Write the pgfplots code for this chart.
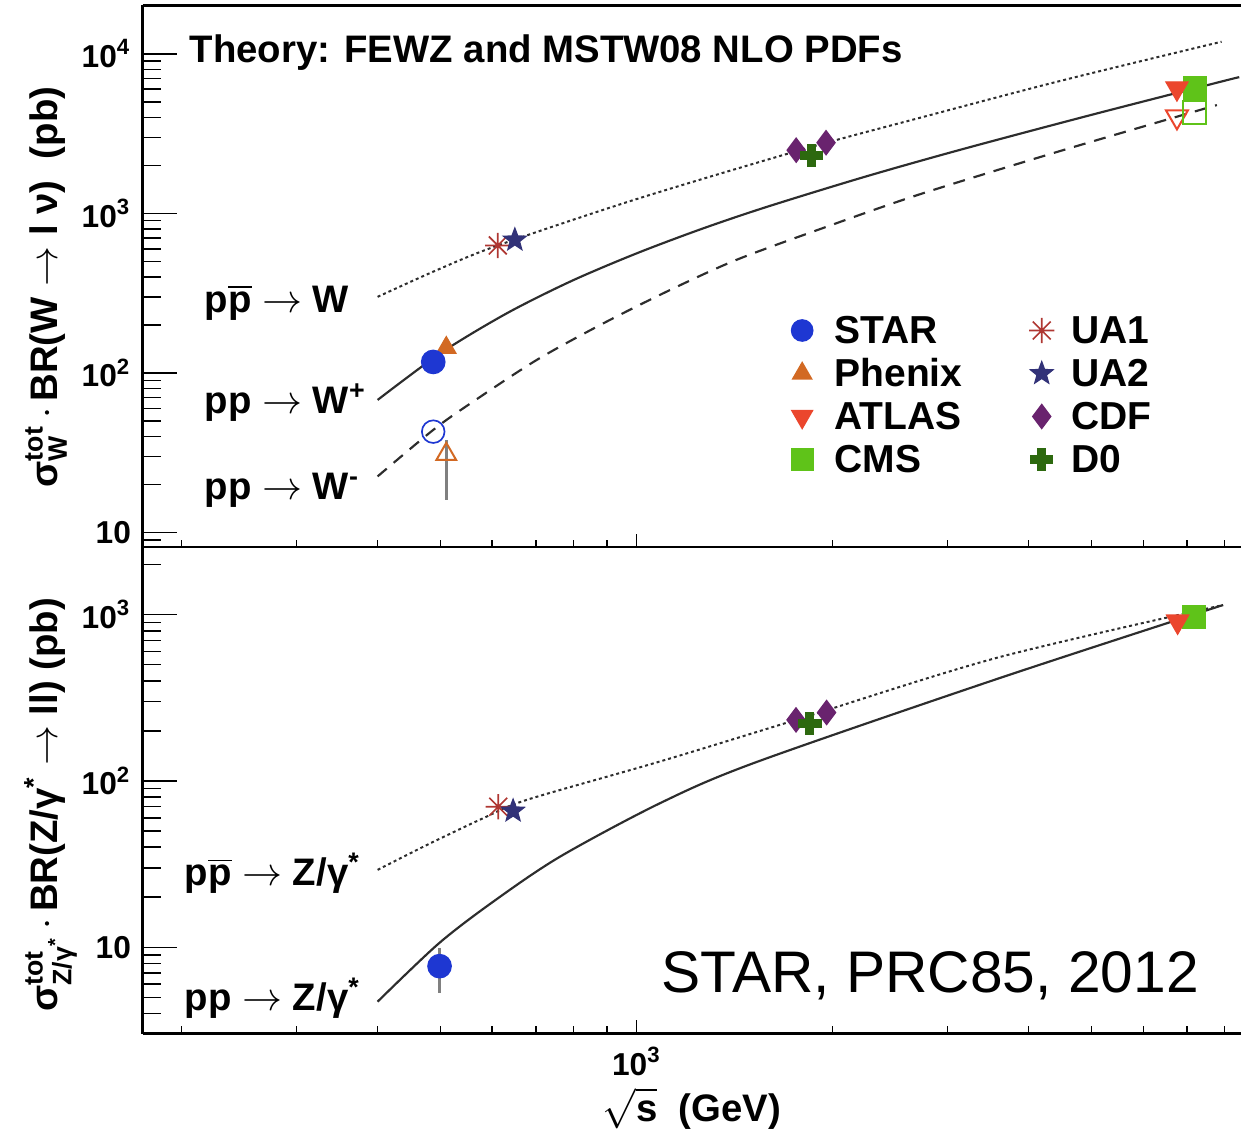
\documentclass[border=0pt]{standalone}
\usepackage{fontspec}
\setmainfont{Liberation Sans}
\usepackage{pgfplots}
\pgfplotsset{compat=1.18}

\definecolor{cstar}{RGB}{30,55,210}
\definecolor{cphenix}{RGB}{210,105,35}
\definecolor{catlas}{RGB}{235,70,45}
\definecolor{ccms}{RGB}{95,195,25}
\definecolor{cua1}{RGB}{175,55,50}
\definecolor{cua2}{RGB}{50,50,120}
\definecolor{ccdf}{RGB}{105,35,110}
\definecolor{cdzero}{RGB}{45,105,15}
\definecolor{cth}{RGB}{45,45,45}

% ROOT-like markers
\pgfdeclareplotmark{ast8}{%
  \pgfpathmoveto{\pgfqpoint{0pt}{\pgfplotmarksize}}\pgfpathlineto{\pgfqpoint{0pt}{-\pgfplotmarksize}}%
  \pgfpathmoveto{\pgfqpoint{\pgfplotmarksize}{0pt}}\pgfpathlineto{\pgfqpoint{-\pgfplotmarksize}{0pt}}%
  \pgfpathmoveto{\pgfqpoint{.7071\pgfplotmarksize}{.7071\pgfplotmarksize}}\pgfpathlineto{\pgfqpoint{-.7071\pgfplotmarksize}{-.7071\pgfplotmarksize}}%
  \pgfpathmoveto{\pgfqpoint{-.7071\pgfplotmarksize}{.7071\pgfplotmarksize}}\pgfpathlineto{\pgfqpoint{.7071\pgfplotmarksize}{-.7071\pgfplotmarksize}}%
  \pgfusepathqstroke}
\pgfdeclareplotmark{fstar}{%
  \pgfpathmoveto{\pgfqpoint{0pt}{\pgfplotmarksize}}%
  \pgfpathlineto{\pgfqpoint{-.2469\pgfplotmarksize}{.3398\pgfplotmarksize}}%
  \pgfpathlineto{\pgfqpoint{-.9511\pgfplotmarksize}{.309\pgfplotmarksize}}%
  \pgfpathlineto{\pgfqpoint{-.3995\pgfplotmarksize}{-.1298\pgfplotmarksize}}%
  \pgfpathlineto{\pgfqpoint{-.5878\pgfplotmarksize}{-.809\pgfplotmarksize}}%
  \pgfpathlineto{\pgfqpoint{0pt}{-.42\pgfplotmarksize}}%
  \pgfpathlineto{\pgfqpoint{.5878\pgfplotmarksize}{-.809\pgfplotmarksize}}%
  \pgfpathlineto{\pgfqpoint{.3995\pgfplotmarksize}{-.1298\pgfplotmarksize}}%
  \pgfpathlineto{\pgfqpoint{.9511\pgfplotmarksize}{.309\pgfplotmarksize}}%
  \pgfpathlineto{\pgfqpoint{.2469\pgfplotmarksize}{.3398\pgfplotmarksize}}%
  \pgfpathclose\pgfusepathqfillstroke}
\pgfdeclareplotmark{fcross}{%
  \pgfpathmoveto{\pgfqpoint{.35\pgfplotmarksize}{\pgfplotmarksize}}%
  \pgfpathlineto{\pgfqpoint{.35\pgfplotmarksize}{.35\pgfplotmarksize}}%
  \pgfpathlineto{\pgfqpoint{\pgfplotmarksize}{.35\pgfplotmarksize}}%
  \pgfpathlineto{\pgfqpoint{\pgfplotmarksize}{-.35\pgfplotmarksize}}%
  \pgfpathlineto{\pgfqpoint{.35\pgfplotmarksize}{-.35\pgfplotmarksize}}%
  \pgfpathlineto{\pgfqpoint{.35\pgfplotmarksize}{-\pgfplotmarksize}}%
  \pgfpathlineto{\pgfqpoint{-.35\pgfplotmarksize}{-\pgfplotmarksize}}%
  \pgfpathlineto{\pgfqpoint{-.35\pgfplotmarksize}{-.35\pgfplotmarksize}}%
  \pgfpathlineto{\pgfqpoint{-\pgfplotmarksize}{-.35\pgfplotmarksize}}%
  \pgfpathlineto{\pgfqpoint{-\pgfplotmarksize}{.35\pgfplotmarksize}}%
  \pgfpathlineto{\pgfqpoint{-.35\pgfplotmarksize}{.35\pgfplotmarksize}}%
  \pgfpathlineto{\pgfqpoint{-.35\pgfplotmarksize}{\pgfplotmarksize}}%
  \pgfpathclose\pgfusepathqfillstroke}

\newcommand\lbl{\fontsize{11.5}{13}\selectfont\bfseries}
\newcommand\tck{\fontsize{9.5}{11}\selectfont\bfseries}
\newcommand\scr{\fontsize{8}{9}\selectfont\bfseries}
\newcommand\pbar{$\overline{\mbox{p}}$}
\newcommand\lsp{\hspace{6pt}}

\begin{document}
\begin{tikzpicture}
% ---------- W panel ----------
\begin{axis}[name=top,
  xmode=log, ymode=log, scale only axis, width=329.5pt, height=162.48pt,
  xmin=174.3, xmax=8480, ymin=8.125, ymax=20110, clip=false,
  axis x line*=bottom, axis y line*=left,
  axis line style={line width=0.8pt},
  tick style={black, line width=0.45pt}, tick align=inside,
  major tick length=10.5pt, minor tick length=5.5pt,
  xtick=\empty,
  ytick={10,100,1000,10000},
  yticklabels={10,10\textsuperscript{2},10\textsuperscript{3},10\textsuperscript{4}},
  minor ytick={9,20,30,40,50,60,70,80,90,200,300,400,500,600,700,800,900,2000,3000,4000,5000,6000,7000,8000,9000},
  yticklabel style={font=\tck},
  ylabel={$\mbox{σ}^{\mbox{\scr tot}}_{\mbox{\scr W}}$\,$\cdot$\,BR(W $\rightarrow$ l ν)\ \ (pb)},
  ylabel style={at={(axis description cs:-0.078,0.48)}, anchor=base, font=\lbl},
  legend columns=2, legend cell align=left,
  legend style={draw=none, fill=none, at={(rel axis cs:0.581,0.441)}, anchor=north west,
    font=\fontsize{11.7}{12}\selectfont\bfseries, row sep=3.9pt,
    nodes={inner sep=0.5pt, text height=8pt, text depth=0pt},
    /tikz/every even column/.append style={column sep=19.5pt}},
]
\addlegendimage{only marks, mark=*, cstar, mark size=3.2pt}\addlegendentry{\lsp STAR}
\addlegendimage{only marks, mark=ast8, cua1, mark size=3.8pt, mark options={line width=0.5pt}}\addlegendentry{\hspace{4.5pt}UA1}
\addlegendimage{only marks, mark=triangle*, cphenix, mark size=3.3pt}\addlegendentry{\lsp Phenix}
\addlegendimage{only marks, mark=fstar, cua2, mark size=3.5pt}\addlegendentry{\hspace{4.5pt}UA2}
\addlegendimage{only marks, mark=triangle*, catlas, mark size=3.6pt, mark options={rotate=180}}\addlegendentry{\lsp ATLAS}
\addlegendimage{only marks, mark=diamond*, ccdf, mark size=3.6pt}\addlegendentry{\hspace{4.5pt}CDF}
\addlegendimage{only marks, mark=square*, ccms, mark size=3.2pt}\addlegendentry{\lsp CMS}
\addlegendimage{only marks, mark=fcross, cdzero, mark size=3.3pt}\addlegendentry{\hspace{4.5pt}D0}

% theory curves
\addplot[forget plot, cth, smooth, line width=0.6pt, dash pattern=on 0.9pt off 0.9pt] coordinates
  {(400,300)(493,441)(612,630)(1000,1230)(1800,2520)(2723,3972)(4472,6761)(7917,11910)};
\addplot[forget plot, cth, smooth, line width=0.65pt] coordinates
  {(400,67.8)(501,134)(631,236)(794,377)(1000,562)(1259,800)(1585,1099)(2239,1694)(3162,2523)(5012,4159)(7943,6730)(8414,7125)};
\addplot[forget plot, cth, smooth, line width=0.65pt, dash pattern=on 3.6pt off 2.7pt] coordinates
  {(400,22.5)(487,44)(555,64.3)(702,120.6)(889,204.8)(1125,331)(1424,512)(1950,820)(2723,1318)(4472,2460)(7787,4775)};

% data
\addplot[forget plot, only marks, mark=o, cstar, mark size=3.4pt, mark options={line width=0.5pt}] coordinates {(487,42.9)};
\addplot[forget plot, only marks, mark=triangle, cphenix, mark size=3.4pt, mark options={line width=0.6pt, fill=white},
  error bars/.cd, y dir=both, y explicit, error mark=none, error bar style={gray, line width=0.9pt}]
  coordinates {(510,31) += (0,7) -= (0,15)};
\addplot[forget plot, only marks, mark=triangle*, cphenix, mark size=3.3pt] coordinates {(510,144)};
\addplot[forget plot, only marks, mark=*, cstar, mark size=3.5pt] coordinates {(487,117.3)};
\addplot[forget plot, only marks, mark=ast8, cua1, mark size=3.8pt, mark options={line width=0.5pt}] coordinates {(612,630)};
\addplot[forget plot, only marks, mark=fstar, cua2, mark size=3.5pt] coordinates {(650,682)};
\addplot[forget plot, only marks, mark=diamond*, ccdf, mark size=3.6pt] coordinates {(1758,2490)(1954,2775)};
\addplot[forget plot, only marks, mark=fcross, cdzero, mark size=3.3pt] coordinates {(1854,2310)};
\addplot[forget plot, only marks, mark=triangle, catlas, mark size=3.8pt, mark options={rotate=180, line width=0.6pt}] coordinates {(6760,4035)};
\addplot[forget plot, only marks, mark=square, ccms, mark size=3.4pt, mark options={line width=0.6pt}] coordinates {(7200,4275)};
\addplot[forget plot, only marks, mark=square*, ccms, mark size=3.4pt] coordinates {(7200,6080)};
\addplot[forget plot, only marks, mark=triangle*, catlas, mark size=3.8pt, mark options={rotate=180}] coordinates {(6760,6080)};

\draw[line width=0.8pt] (rel axis cs:0,1) -- (rel axis cs:1,1);
\node[anchor=base west, font=\lbl] at (rel axis cs:0.0321,0.8946) {Theory: FEWZ and MSTW08 NLO PDFs};
\node[anchor=base west, font=\lbl] at (rel axis cs:0.0458,0.433) {p\pbar\ $\rightarrow$ W};
\node[anchor=base west, font=\lbl] at (rel axis cs:0.0458,0.2456) {pp $\rightarrow$ W\textsuperscript{+}};
\node[anchor=base west, font=\lbl] at (rel axis cs:0.0458,0.0868) {pp $\rightarrow$ W\textsuperscript{-}};
\end{axis}
% short x ticks of the W panel
\begin{axis}[at={(top.south west)}, anchor=south west,
  xmode=log, scale only axis, width=329.5pt, height=162.48pt,
  xmin=174.3, xmax=8480, ymin=0, ymax=1,
  axis x line*=bottom, hide y axis,
  axis line style={line width=0.8pt},
  tick style={black, line width=0.45pt}, tick align=inside,
  major tick length=4pt, minor tick length=2.2pt,
  xtick={1000}, xticklabels={},
  minor xtick={200,300,400,500,600,700,800,900,2000,3000,4000,5000,6000,7000,8000},
]
\end{axis}

% ---------- Z panel ----------
\begin{axis}[name=bot, at={(top.south west)}, anchor=north west,
  xmode=log, ymode=log, scale only axis, width=329.5pt, height=145.95pt,
  xmin=174.3, xmax=8480, ymin=3.03, ymax=2553, clip=false,
  axis x line*=bottom, axis y line*=left,
  axis line style={line width=0.8pt},
  tick style={black, line width=0.45pt}, tick align=inside,
  major tick length=10.5pt, minor tick length=5.5pt,
  xtick=\empty,
  ytick={10,100,1000},
  yticklabels={10,10\textsuperscript{2},10\textsuperscript{3}},
  minor ytick={4,5,6,7,8,9,20,30,40,50,60,70,80,90,200,300,400,500,600,700,800,900,2000},
  yticklabel style={font=\tck},
  ylabel={$\mbox{σ}^{\mbox{\scr tot}}_{\mbox{\scr Z/γ\textsuperscript{*}}}$\,$\cdot$\,BR(Z/γ\textsuperscript{*} $\rightarrow$ ll) (pb)},
  ylabel style={at={(axis description cs:-0.078,0.47)}, anchor=base, font=\lbl},
  xlabel={$\sqrt{\mbox{\bfseries s}}$\ \ (GeV)},
  xlabel style={at={(axis description cs:0.5,-0.18)}, anchor=base, inner sep=0pt, font=\lbl},
]
\addplot[forget plot, cth, smooth, line width=0.6pt, dash pattern=on 0.9pt off 0.9pt] coordinates
  {(400,29.2)(476,41.2)(581,59.7)(678,77)(1086,131)(1757,233)(3573,550)(7958,1143)};
\addplot[forget plot, cth, smooth, line width=0.65pt] coordinates
  {(400,4.71)(496,10.5)(602,18.8)(762,35)(1086,73.5)(1520,129)(3573,410)(7958,1143)};

\addplot[forget plot, only marks, mark=*, cstar, mark size=3.5pt,
  error bars/.cd, y dir=both, y explicit, error mark=none, error bar style={gray, line width=0.9pt}]
  coordinates {(498,7.7) += (0,2.2) -= (0,2.4)};
\addplot[forget plot, only marks, mark=ast8, cua1, mark size=3.8pt, mark options={line width=0.5pt}] coordinates {(613,70)};
\addplot[forget plot, only marks, mark=fstar, cua2, mark size=3.5pt] coordinates {(646,66)};
\addplot[forget plot, only marks, mark=diamond*, ccdf, mark size=3.6pt] coordinates {(1757,233)(1958,258)};
\addplot[forget plot, only marks, mark=fcross, cdzero, mark size=3.3pt] coordinates {(1846,222)};
\addplot[forget plot, only marks, mark=square*, ccms, mark size=3.4pt] coordinates {(7180,973)};
\addplot[forget plot, only marks, mark=triangle*, catlas, mark size=3.8pt, mark options={rotate=180}] coordinates {(6776,910)};

\node[anchor=base west, font=\lbl] at (rel axis cs:0.0276,0.3032) {p\pbar\ $\rightarrow$ Z/γ\textsuperscript{*}};
\node[anchor=base west, font=\lbl] at (rel axis cs:0.0276,0.0463) {pp $\rightarrow$ Z/γ\textsuperscript{*}};
\node[anchor=base west, font=\fontsize{17.6}{20}\selectfont] at (rel axis cs:0.4619,0.0853) {STAR, PRC85, 2012};
\end{axis}
% short x ticks and tick label of the Z panel
\begin{axis}[at={(bot.south west)}, anchor=south west,
  xmode=log, scale only axis, width=329.5pt, height=145.95pt,
  xmin=174.3, xmax=8480, ymin=0, ymax=1,
  axis x line*=bottom, hide y axis,
  axis line style={line width=0.8pt},
  tick style={black, line width=0.45pt}, tick align=inside,
  major tick length=4pt, minor tick length=2.2pt,
  xtick={1000}, xticklabels={10\textsuperscript{3}},
  xticklabel style={font=\tck, inner sep=0pt, yshift=-4pt},
  minor xtick={200,300,400,500,600,700,800,900,2000,3000,4000,5000,6000,7000,8000},
]
\end{axis}

\pgfresetboundingbox
\path[use as bounding box] ([shift={(-42.81pt,1.62pt)}]top.north west) rectangle ([shift={(329.49pt,-338.28pt)}]top.north west);
\end{tikzpicture}
\end{document}
